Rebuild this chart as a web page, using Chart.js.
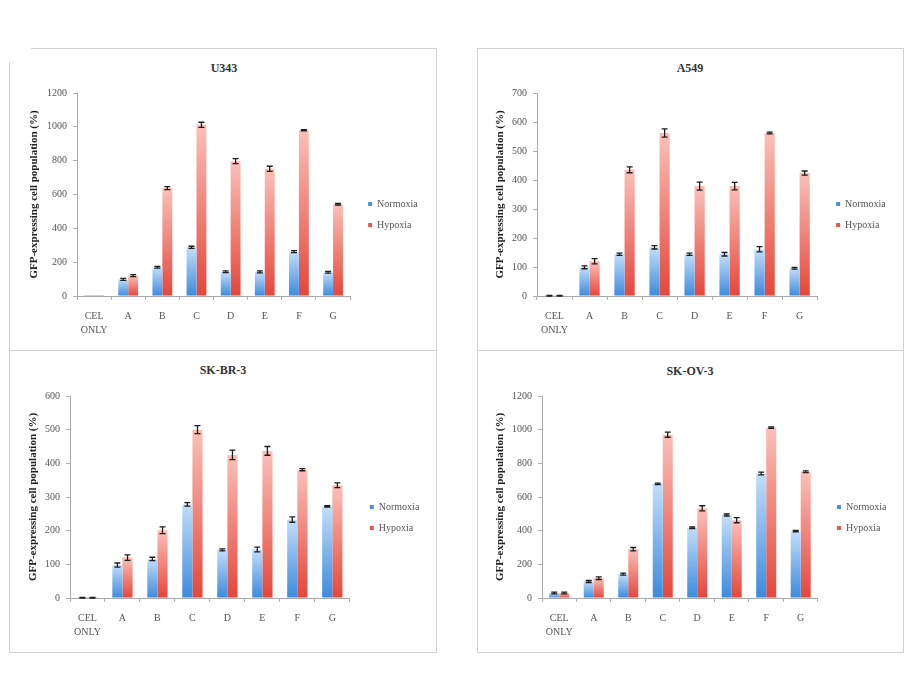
<!DOCTYPE html>
<html>
<head>
<meta charset="utf-8">
<script src="https://cdn.jsdelivr.net/npm/chart.js@4.4.1/dist/chart.umd.min.js"></script>
<style>
  body { margin: 0; background: #fff; width: 906px; height: 687px; position: relative; overflow: hidden; }
  .box { position: absolute; border: 1px solid #d2d2d2; box-sizing: border-box; }
  .ttl { position: absolute; font: bold 12px "Liberation Serif", "Times New Roman", serif; color: #333; transform: translate(-50%, -50%); white-space: nowrap; }
  canvas { position: absolute; }
  #mask { position: absolute; left: 0; top: 40px; width: 31px; height: 22px; background: #fff; }
</style>
</head>
<body>
<div class="box" style="left:9px;top:48px;width:428px;height:303px"></div>
<div class="box" style="left:477px;top:48px;width:427px;height:303px"></div>
<div class="box" style="left:9px;top:350px;width:428px;height:303px"></div>
<div class="box" style="left:477px;top:350px;width:427px;height:303px"></div>
<div id="mask"></div>

<script>
// categories and series
var categories = [['CEL', 'ONLY'], 'A', 'B', 'C', 'D', 'E', 'F', 'G'];
var seriesNames = ['Normoxia', 'Hypoxia'];
var yTitle = 'GFP-expressing cell population (%)';

// U343
var u343Normoxia    = [1, 98, 170, 288, 143, 143, 262, 140];
var u343NormoxiaErr = [0, 6, 5, 6, 5, 6, 6, 5];
var u343Hypoxia     = [1, 120, 638, 1012, 797, 752, 980, 543];
var u343HypoxiaErr  = [0, 6, 9, 15, 15, 15, 4, 5];

// A549
var a549Normoxia    = [1, 99, 144, 168, 144, 144, 161, 96];
var a549NormoxiaErr = [1, 5, 4, 6, 4, 6, 9, 3];
var a549Hypoxia     = [1, 120, 435, 562, 379, 379, 562, 424];
var a549HypoxiaErr  = [1, 9, 10, 14, 14, 13, 3, 7];

// SK-BR-3
var skbr3Normoxia    = [1, 98, 116, 278, 143, 144, 233, 272];
var skbr3NormoxiaErr = [1, 6, 5, 5, 3, 7, 8, 2];
var skbr3Hypoxia     = [1, 120, 201, 500, 425, 437, 381, 335];
var skbr3HypoxiaErr  = [1, 8, 10, 12, 14, 13, 3, 7];

// SK-OV-3
var skov3Normoxia    = [30, 98, 142, 678, 418, 493, 740, 397];
var skov3NormoxiaErr = [5, 6, 6, 5, 5, 6, 8, 4];
var skov3Hypoxia     = [30, 118, 290, 970, 533, 462, 1012, 750];
var skov3HypoxiaErr  = [5, 8, 10, 15, 15, 15, 4, 5];

// y axis ranges
var yMax  = [1200, 700, 600, 1200];
var yStep = [200, 100, 100, 200];

var FONT = '"Liberation Serif", "Times New Roman", serif';
var legendColors = ['#4a8fdc', '#e3584c'];
var gradStops = [['#c2def9', '#3b8ade'], ['#fbc0b8', '#e5463a']];

// page layout of the four panels
var panels = [
  { title: 'U343',    tx: 224, ty: 68,  left: 10,  top: 81,  w: 426, h: 267, plotL: 77,  plotR: 359, plotH: 203, marker: 377, yTitleX: 23,
    n: u343Normoxia, ne: u343NormoxiaErr, hy: u343Hypoxia, he: u343HypoxiaErr },
  { title: 'A549',    tx: 690, ty: 68,  left: 478, top: 81,  w: 424, h: 267, plotL: 537, plotR: 826, plotH: 203, marker: 845, yTitleX: 21,
    n: a549Normoxia, ne: a549NormoxiaErr, hy: a549Hypoxia, he: a549HypoxiaErr },
  { title: 'SK-BR-3', tx: 223, ty: 370, left: 10,  top: 384, w: 426, h: 267, plotL: 70,  plotR: 359, plotH: 202, marker: 379, yTitleX: 22,
    n: skbr3Normoxia, ne: skbr3NormoxiaErr, hy: skbr3Hypoxia, he: skbr3HypoxiaErr },
  { title: 'SK-OV-3', tx: 690, ty: 371, left: 478, top: 384, w: 424, h: 267, plotL: 542, plotR: 827, plotH: 202, marker: 846, yTitleX: 21,
    n: skov3Normoxia, ne: skov3NormoxiaErr, hy: skov3Hypoxia, he: skov3HypoxiaErr }
];

function barFill(stops) {
  return function(ctx) {
    var chart = ctx.chart, y = chart.scales.y;
    if (!y || ctx.type !== 'data') return stops[1];
    var top = y.getPixelForValue(ctx.raw), base = y.getPixelForValue(0);
    if (!isFinite(top) || base - top < 1) return stops[1];
    var g = chart.ctx.createLinearGradient(0, top, 0, base);
    g.addColorStop(0, stops[0]);
    g.addColorStop(1, stops[1]);
    return g;
  };
}

var errorBars = {
  id: 'errorBars',
  afterDatasetsDraw: function(chart) {
    var c = chart.ctx, y = chart.scales.y;
    c.save();
    c.strokeStyle = '#1e1e1e';
    c.lineWidth = 1.3;
    chart.data.datasets.forEach(function(ds, i) {
      chart.getDatasetMeta(i).data.forEach(function(bar, j) {
        var e = ds.errors[j];
        if (!e) return;
        var v = ds.data[j];
        var hi = y.getPixelForValue(v + e), lo = y.getPixelForValue(Math.max(0, v - e));
        c.beginPath();
        c.moveTo(bar.x, hi); c.lineTo(bar.x, lo);
        c.moveTo(bar.x - 3, hi); c.lineTo(bar.x + 3, hi);
        c.moveTo(bar.x - 3, lo); c.lineTo(bar.x + 3, lo);
        c.stroke();
      });
    });
    c.restore();
  }
};

var measure = document.createElement('canvas').getContext('2d');
measure.font = '10px ' + FONT;
var textW = Math.max.apply(null, seriesNames.map(function(s) { return measure.measureText(s).width; }));

panels.forEach(function(p, k) {
  var t = document.createElement('div');
  t.className = 'ttl';
  t.style.left = p.tx + 'px';
  t.style.top = p.ty + 'px';
  t.textContent = p.title;
  document.body.appendChild(t);

  var cv = document.createElement('canvas');
  cv.style.left = p.left + 'px';
  cv.style.top = p.top + 'px';
  cv.style.width = p.w + 'px';
  cv.style.height = p.h + 'px';
  cv.width = p.w; cv.height = p.h;
  document.body.appendChild(cv);

  var legPad = 11;
  var gap = p.marker - legPad - p.plotR;
  var legendW = legPad + 4 + 5 + textW;
  var padR = p.w - (p.plotR - p.left) - gap - legendW;

  new Chart(cv, {
    type: 'bar',
    data: {
      labels: categories,
      datasets: [
        { label: seriesNames[0], data: p.n, errors: p.ne, backgroundColor: barFill(gradStops[0]) },
        { label: seriesNames[1], data: p.hy, errors: p.he, backgroundColor: barFill(gradStops[1]) }
      ]
    },
    options: {
      responsive: false,
      animation: false,
      devicePixelRatio: 1,
      layout: { padding: { top: 0, right: padR, bottom: 0, left: 0 } },
      datasets: { bar: { categoryPercentage: 0.58, barPercentage: 1.0, borderWidth: 0 } },
      plugins: {
        tooltip: { enabled: false },
        legend: {
          position: 'right',
          align: 'center',
          labels: {
            boxWidth: 4, boxHeight: 4, padding: legPad, color: '#555',
            font: { family: FONT, size: 10 },
            generateLabels: function(chart) {
              return Chart.defaults.plugins.legend.labels.generateLabels(chart).map(function(l, i) {
                l.fillStyle = legendColors[i]; l.strokeStyle = legendColors[i]; l.lineWidth = 0;
                return l;
              });
            }
          }
        }
      },
      scales: {
        x: {
          grid: { offset: true, drawOnChartArea: false, drawTicks: true, tickLength: 4, color: '#b0b0b0' },
          border: { color: '#a8a8a8' },
          ticks: { color: '#555', padding: 9, font: { family: FONT, size: 10, lineHeight: 1.4 }, maxRotation: 0, autoSkip: false },
          afterFit: function(s) { s.height = p.h - 12 - p.plotH; }
        },
        y: {
          min: 0, max: yMax[k],
          grid: { drawOnChartArea: false, drawTicks: true, tickLength: 4, color: '#b0b0b0' },
          border: { color: '#a8a8a8' },
          ticks: { stepSize: yStep[k], color: '#555', padding: 6, font: { family: FONT, size: 10 },
                   callback: function(v) { return String(v); } },
          title: { display: true, text: yTitle, color: '#222', padding: { top: p.yTitleX - 5.5, bottom: 0 }, font: { family: FONT, size: 11, weight: 'bold' } },
          afterFit: function(s) { s.width = p.plotL - p.left; }
        },
        yPad: {
          type: 'linear', position: 'right', axis: 'y',
          grid: { display: false }, border: { display: false }, ticks: { display: false, padding: 0 },
          afterFit: function(s) { s.width = gap; }
        }
      }
    },
    plugins: [errorBars]
  });
});
</script>
</body>
</html>
